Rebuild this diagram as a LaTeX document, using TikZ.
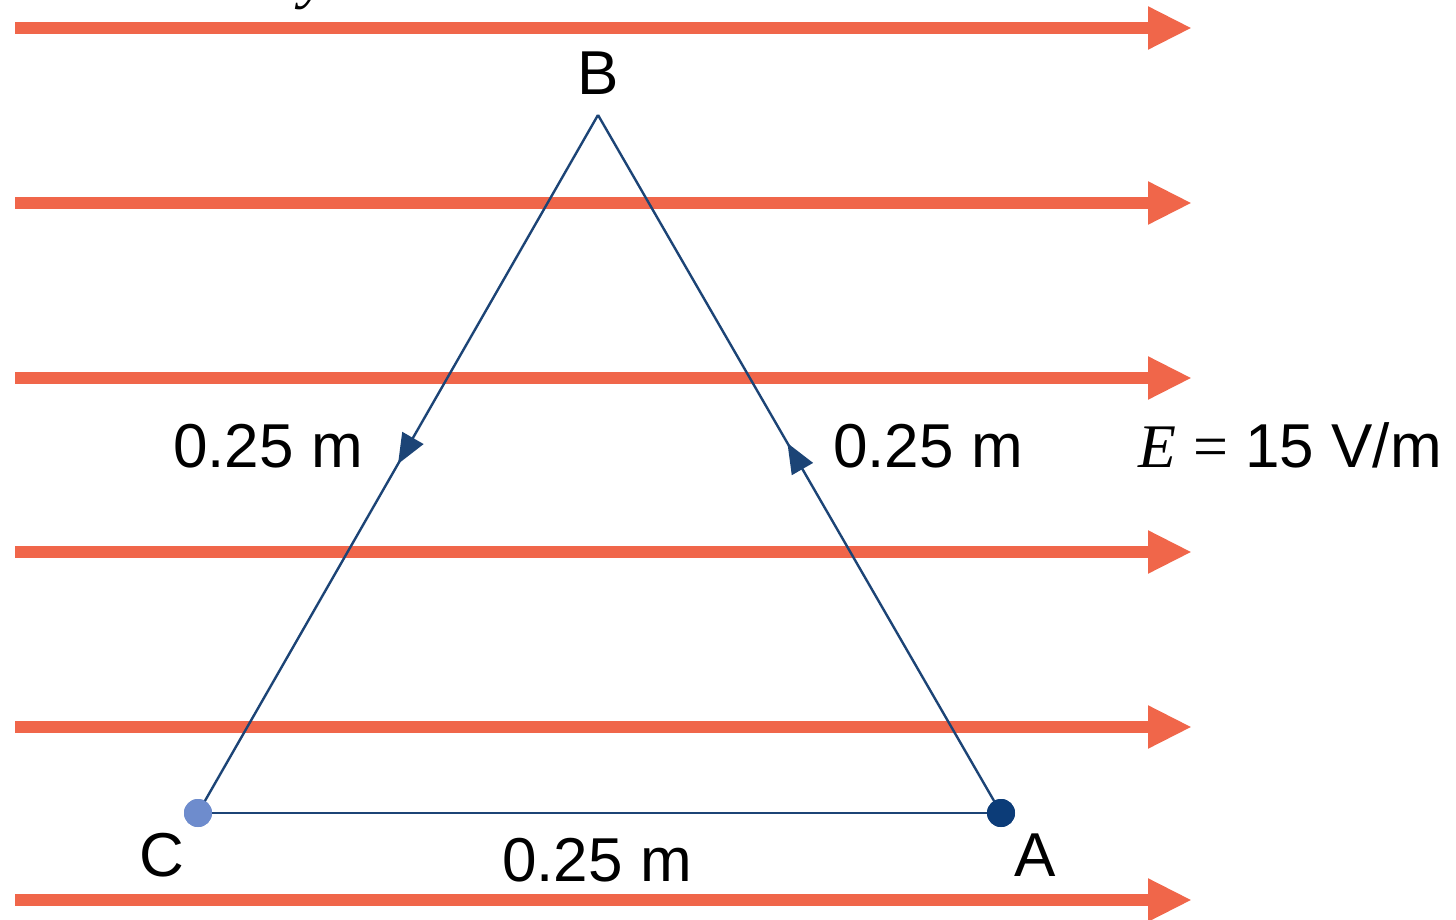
\documentclass[tikz,border=0pt]{standalone}
\usepackage{fontspec}
\setmainfont{Liberation Sans}
\newfontfamily\seriffont{Liberation Serif}
\usetikzlibrary{arrows.meta,decorations.markings}
\definecolor{fieldred}{RGB}{240,102,74}
\definecolor{sideblue}{RGB}{28,68,118}
\definecolor{pointA}{RGB}{12,60,120}
\definecolor{pointC}{RGB}{110,140,205}
\tikzset{
  fieldline/.style={draw=fieldred, line width=12pt, -{Triangle[length=44pt,width=40pt]}},
  side/.style={draw=sideblue, line width=2.4pt},
  midarrow/.style={postaction={decorate}, decoration={markings,
      mark=at position #1 with {\arrow{Triangle[length=30pt,width=24pt]}}}},
  pt/.style={circle, inner sep=0pt, minimum size=28pt},
  lbl/.style={anchor=base, inner sep=0pt, font=\fontsize{62}{64}\selectfont},
}
\begin{document}
\begin{tikzpicture}[x=1pt,y=-1pt]
\path[use as bounding box, fill=white] (0,0) rectangle (1456,920);
% cropped fragment at top
\node[anchor=base, inner sep=0pt, font=\fontsize{62}{64}\seriffont\itshape] (yfrag) at (314,-3) {y};
% field lines
\foreach \yy/\nm in {28/f1,203/f2,378/f3,552/f4,727/f5,900/f6}{
  \coordinate (\nm s) at (15,\yy);
  \coordinate (\nm e) at (1192,\yy);
  \draw[fieldline] (\nm s) -- (\nm e);
}
% triangle
\coordinate (B) at (598,115);
\node[pt, fill=pointC] (C) at (198,813) {};
\node[pt, fill=pointA] (A) at (1001,813) {};
\draw[side, midarrow=0.5, sideblue] (B) -- (C.center);
\draw[side, midarrow=0.53, sideblue] (A.center) -- (B);
\draw[side] (C) -- (A);
\fill[pointC] (C) circle (14pt);
\fill[pointA] (A) circle (14pt);
% labels
\node[lbl] (lB) at (598,95) {B};
\node[lbl] (lC) at (162,876) {C};
\node[lbl] (lA) at (1035,876) {A};
\node[lbl] (l1) at (268,467) {0.25 m};
\node[lbl] (l2) at (928,467) {0.25 m};
\node[lbl] (l3) at (597,881) {0.25 m};
\node[lbl, anchor=base west] (lE) at (1138,467) {{\seriffont\itshape E} {\seriffont=} 15 V/m};
\end{tikzpicture}
\end{document}
